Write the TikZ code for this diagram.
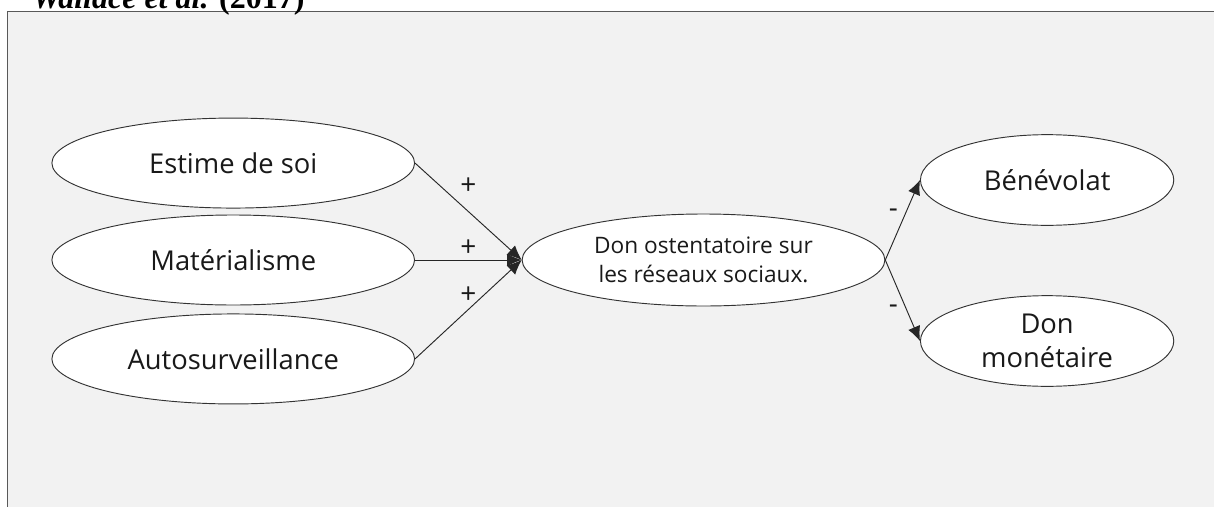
\documentclass[tikz,border=0pt]{standalone}
\usepackage{fontspec}
\setmainfont{Open Sans}
\newfontfamily\titrefont{Liberation Serif}
\usepackage{tikz}
\usetikzlibrary{positioning}
\usetikzlibrary{shapes.geometric, arrows.meta}
\definecolor{myfond}{HTML}{F2F2F2}
\definecolor{mycadre}{HTML}{595959}
\tikzstyle{facteur} = [ellipse, minimum width=272pt, minimum height=67.5pt, inner sep=0pt, align=center, draw=black!80, line width=0.7pt, fill=white, text=black!90, font=\fontsize{20.5}{26}\selectfont]
\tikzstyle{centre} = [facteur, minimum height=69pt, font=\fontsize{17}{22}\selectfont]
\tikzstyle{effet} = [facteur, minimum width=190pt, minimum height=68pt]
\tikzstyle{lien} = [line width=0.7pt, -{Latex[length=11pt,width=9.5pt]}, black!85]
\tikzstyle{signe} = [inner sep=0pt, text=black!90, font=\fontsize{21}{21}\selectfont]

\begin{document}
\begin{tikzpicture}[x=0.75pt,y=-0.75pt]
	\useasboundingbox (0,0) rectangle (1214,507);
	\clip (0,0) rectangle (1214,507);
	\fill [myfond] (7,11) rectangle (1214,507);
	\draw [mycadre, line width=0.75pt] (7,507) -- (7,11) -- (1214,11);
	\node (titre)[anchor=base west, inner sep=0pt, font=\titrefont\fontsize{24}{24}\selectfont\bfseries] at (32,8.5) {\textit{Wallace et al.} (2017)};
	\node (don)[centre] at (703.5,260) {Don ostentatoire sur\\les réseaux sociaux.};
	\node (mat)[facteur, left=80pt of don]{Matérialisme};
	\node (estime)[facteur, above=4.5pt of mat]{Estime de soi};
	\node (auto)[facteur, below=6pt of mat]{Autosurveillance};
	\node (benevolat)[effet, right=26pt of don, yshift=60pt]{Bénévolat};
	\node (monetaire)[effet, right=26pt of don, yshift=-60.75pt]{Don\\monétaire};
	\draw [lien] (estime.east) -- node [signe, yshift=19pt] {+} (don.west);
	\draw [lien] (mat.east) -- node [signe, yshift=9pt] {+} (don.west);
	\draw [lien] (auto.east) -- node [signe, yshift=10.5pt] {+} (don.west);
	\draw [lien] (don.east) -- node [signe, xshift=-7pt, yshift=5.25pt] {-} (benevolat.west);
	\draw [lien] (don.east) -- node [signe, xshift=-7pt, yshift=-6.4pt] {-} (monetaire.west);
\end{tikzpicture}
\end{document}
